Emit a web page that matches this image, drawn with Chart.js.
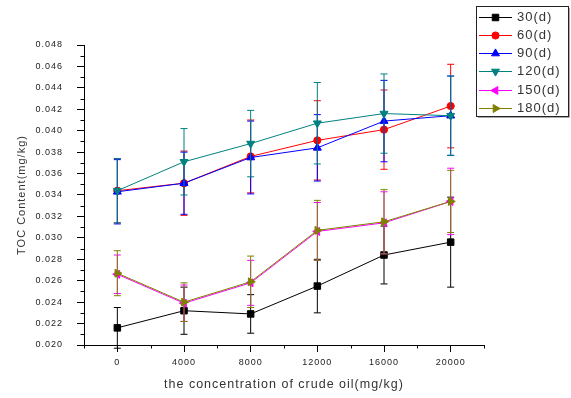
<!DOCTYPE html>
<html>
<head>
<meta charset="utf-8">
<script src="https://cdn.jsdelivr.net/npm/chart.js@4/dist/chart.umd.min.js"></script>
<style>
  html, body { margin: 0; padding: 0; background: #fff; }
  #wrap { width: 571px; height: 398px; position: relative; }
</style>
</head>
<body>
<div id="wrap"><canvas id="c" width="571" height="398"></canvas></div>
<script>
// Crude-oil concentration (mg/kg) on the x axis
const concentrations = [0, 4000, 8000, 12000, 16000, 20000];
const xTickValues = [0, 4000, 8000, 12000, 16000, 20000];
const xTickLabels = ['0', '4000', '8000', '12000', '16000', '20000'];
const yTickValues = [0.020, 0.022, 0.024, 0.026, 0.028, 0.030, 0.032, 0.034, 0.036, 0.038, 0.040, 0.042, 0.044, 0.046, 0.048];
const yTickLabels = ['0.020', '0.022', '0.024', '0.026', '0.028', '0.030', '0.032', '0.034', '0.036', '0.038', '0.040', '0.042', '0.044', '0.046', '0.048'];

// Series labels (incubation days)
const seriesLabels = ['30(d)', '60(d)', '90(d)', '120(d)', '150(d)', '180(d)'];

// TOC content means (mg/kg) and standard deviations
const toc30  = [0.0216, 0.0232, 0.0229, 0.0255, 0.0284, 0.0296];
const err30  = [0.0019, 0.0022, 0.0018, 0.0025, 0.0027, 0.0042];
const toc60  = [0.0344, 0.0351, 0.0376, 0.0391, 0.0401, 0.0423];
const err60  = [0.0030, 0.0030, 0.0034, 0.0037, 0.0037, 0.0039];
const toc90  = [0.0343, 0.0351, 0.0375, 0.0384, 0.0409, 0.0414];
const err90  = [0.0030, 0.0029, 0.0034, 0.0031, 0.0038, 0.0037];
const toc120 = [0.0344, 0.0371, 0.0388, 0.0407, 0.0416, 0.0414];
const err120 = [0.0030, 0.0031, 0.0031, 0.0038, 0.0037, 0.0037];
const toc150 = [0.0266, 0.0239, 0.0258, 0.0306, 0.0314, 0.0334];
const err150 = [0.0018, 0.0017, 0.0021, 0.0027, 0.0029, 0.0031];
const toc180 = [0.0267, 0.0240, 0.0259, 0.0307, 0.0315, 0.0334];
const err180 = [0.0021, 0.0018, 0.0024, 0.0028, 0.0030, 0.0029];

const FONT = "'Liberation Sans', Arial, sans-serif";

const seriesValues = [toc30, toc60, toc90, toc120, toc150, toc180];
const seriesErrors = [err30, err60, err90, err120, err150, err180];
const seriesColors = ['#000000', '#ff0000', '#0000ff', '#008080', '#ff00ff', '#808000'];
const seriesMarkers = [
  { style: 'rect', radius: 4.6, rotation: 0 },
  { style: 'circle', radius: 3.6, rotation: 0 },
  { style: 'triangle', radius: 4.6, rotation: 0 },
  { style: 'triangle', radius: 4.6, rotation: 180 },
  { style: 'triangle', radius: 4.6, rotation: 270 },
  { style: 'triangle', radius: 4.6, rotation: 90 }
];

const datasets = seriesLabels.map((label, i) => ({
  label: label,
  data: concentrations.map((x, j) => ({ x: x, y: seriesValues[i][j] })),
  borderColor: seriesColors[i],
  backgroundColor: seriesColors[i],
  borderWidth: 1,
  pointStyle: seriesMarkers[i].style,
  pointRadius: seriesMarkers[i].radius,
  pointRotation: seriesMarkers[i].rotation,
  pointBorderWidth: 1,
  pointBackgroundColor: seriesColors[i],
  pointBorderColor: seriesColors[i],
  tension: 0,
  fill: false,
  // later series are drawn on top
  order: seriesLabels.length - i
}));

// Vertical error bars with caps, drawn beneath each series
const errorBarPlugin = {
  id: 'errorBars',
  beforeDatasetDraw(chart, args) {
    const i = args.index;
    const errs = seriesErrors[i];
    const vals = seriesValues[i];
    const xs = chart.scales.x, ys = chart.scales.y;
    const area = chart.chartArea;
    const ctx = chart.ctx;
    ctx.save();
    ctx.beginPath();
    ctx.rect(area.left, area.top - 1, area.right - area.left, area.bottom - area.top + 12);
    ctx.clip();
    ctx.strokeStyle = seriesColors[i];
    ctx.lineWidth = 1;
    concentrations.forEach((c, j) => {
      const px = xs.getPixelForValue(c);
      const top = ys.getPixelForValue(vals[j] + errs[j]);
      const bot = ys.getPixelForValue(vals[j] - errs[j]);
      ctx.beginPath();
      ctx.moveTo(px, top); ctx.lineTo(px, bot);
      ctx.moveTo(px - 3.5, top); ctx.lineTo(px + 3.5, top);
      ctx.moveTo(px - 3.5, bot); ctx.lineTo(px + 3.5, bot);
      ctx.stroke();
    });
    ctx.restore();
  }
};

// Letter-spaced glyphs for the axis text
const spacingPlugin = {
  id: 'spacing',
  beforeLayout(chart) { chart.ctx.letterSpacing = '1px'; },
  beforeDraw(chart) { chart.ctx.letterSpacing = '1px'; }
};

// Minor tick marks and the boxed legend
const decorPlugin = {
  id: 'decor',
  afterDraw(chart) {
    const ctx = chart.ctx;
    const xs = chart.scales.x, ys = chart.scales.y;
    const area = chart.chartArea;
    ctx.save();
    ctx.strokeStyle = '#000';
    ctx.lineWidth = 1;
    ctx.beginPath();
    for (let v = -2000; v <= 22000; v += 4000) {
      const px = Math.round(xs.getPixelForValue(v)) + 0.5;
      ctx.moveTo(px, area.bottom); ctx.lineTo(px, area.bottom + 3.5);
    }
    for (let k = 0; k < yTickValues.length - 1; k++) {
      const v = (yTickValues[k] + yTickValues[k + 1]) / 2;
      const py = Math.round(ys.getPixelForValue(v)) + 0.5;
      ctx.moveTo(area.left, py); ctx.lineTo(area.left - 3.5, py);
    }
    ctx.stroke();

    // legend box
    const bx = 476.5, by = 6.5, bw = 92, bh = 110;
    ctx.strokeStyle = '#222';
    ctx.lineWidth = 1;
    ctx.strokeRect(bx, by, bw, bh);
    ctx.strokeStyle = '#aaa';
    ctx.beginPath();
    ctx.moveTo(bx + 1.5, by + bh + 1); ctx.lineTo(bx + bw + 1, by + bh + 1); ctx.lineTo(bx + bw + 1, by + 1.5);
    ctx.stroke();

    ctx.font = '13px ' + FONT;
    ctx.letterSpacing = '1px';
    ctx.textBaseline = 'middle';
    ctx.textAlign = 'left';
    chart.data.datasets.forEach((ds, i) => {
      const y = 16.8 + i * 18.2;
      ctx.strokeStyle = seriesColors[i];
      ctx.lineWidth = 1;
      ctx.beginPath();
      ctx.moveTo(479, Math.round(y) + 0.5); ctx.lineTo(512, Math.round(y) + 0.5);
      ctx.stroke();
      ctx.fillStyle = seriesColors[i];
      Chart.helpers.drawPoint(ctx, {
        pointStyle: seriesMarkers[i].style,
        radius: seriesMarkers[i].radius,
        rotation: seriesMarkers[i].rotation,
        borderWidth: 1
      }, 495.5, Math.round(y) + 0.5);
      ctx.fillStyle = '#333';
      ctx.fillText(ds.label, 517, y + 0.5);
    });
    ctx.restore();
  }
};

new Chart(document.getElementById('c'), {
  type: 'line',
  data: { datasets: datasets },
  options: {
    responsive: false,
    devicePixelRatio: 1,
    animation: false,
    layout: { padding: { left: 0, right: 87, top: 45, bottom: 0 } },
    plugins: {
      legend: { display: false },
      tooltip: { enabled: false }
    },
    scales: {
      x: {
        type: 'linear',
        min: -2000,
        max: 22000,
        afterBuildTicks: s => { s.ticks = xTickValues.map(v => ({ value: v })); },
        afterFit: s => { s.height = 53; },
        ticks: {
          autoSkip: false,
          maxRotation: 0,
          padding: 5,
          color: '#222',
          font: { family: FONT, size: 9 },
          callback: (v, idx) => xTickLabels[idx]
        },
        grid: { drawOnChartArea: false, color: '#000', tickLength: 7 },
        border: { display: true, color: '#000', width: 1 },
        title: {
          display: true,
          text: 'the concentration of crude oil(mg/kg)',
          color: '#333',
          font: { family: FONT, size: 12.5 },
          padding: { top: 0, bottom: 6 }
        }
      },
      y: {
        type: 'linear',
        min: 0.020,
        max: 0.048,
        afterBuildTicks: s => { s.ticks = yTickValues.map(v => ({ value: v })); },
        afterFit: s => { s.width = 84; },
        ticks: {
          autoSkip: false,
          padding: 14,
          color: '#222',
          font: { family: FONT, size: 9 },
          callback: (v, idx) => yTickLabels[idx]
        },
        grid: { drawOnChartArea: false, color: '#000', tickLength: 7 },
        border: { display: true, color: '#000', width: 1 },
        title: {
          display: true,
          text: 'TOC Content(mg/kg)',
          color: '#333',
          font: { family: FONT, size: 11 },
          padding: { top: 15, bottom: 0 }
        }
      }
    }
  },
  plugins: [spacingPlugin, errorBarPlugin, decorPlugin]
});
</script>
</body>
</html>
